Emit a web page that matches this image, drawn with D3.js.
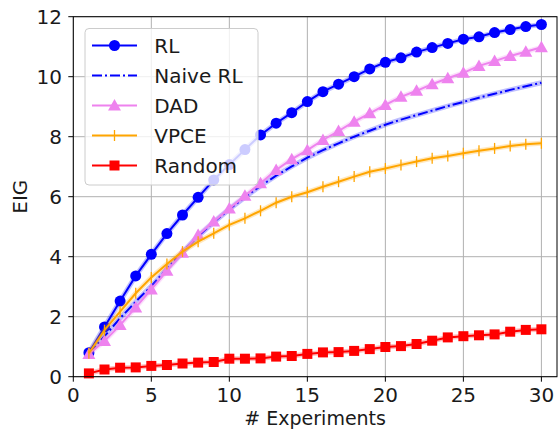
<!DOCTYPE html>
<html>
<head>
<meta charset="utf-8">
<script src="https://cdn.jsdelivr.net/npm/d3@7"></script>
<style>
  body { margin: 0; background: #fff; }
  svg { display: block; font-family: "DejaVu Sans", sans-serif; }
</style>
</head>
<body>
<svg id="chart" width="560" height="429"></svg>
<script>
// data
const experiments = d3.range(1, 31);
const rl = [0.80, 1.66, 2.52, 3.36, 4.08, 4.77, 5.39, 5.98, 6.56, 7.07,
  7.57, 8.06, 8.45, 8.80, 9.17, 9.50, 9.75, 10.00, 10.26, 10.48,
  10.63, 10.82, 10.97, 11.11, 11.25, 11.33, 11.47, 11.57, 11.67, 11.74];
const naiveRl = [0.78, 1.35, 1.95, 2.50, 3.02, 3.60, 4.15, 4.68, 5.15, 5.58,
  5.98, 6.36, 6.70, 7.01, 7.30, 7.55, 7.78, 8.00, 8.20, 8.40,
  8.57, 8.72, 8.87, 9.02, 9.16, 9.30, 9.43, 9.56, 9.68, 9.80];
const dad = [0.76, 1.19, 1.72, 2.31, 2.91, 3.53, 4.13, 4.72, 5.17, 5.61,
  6.03, 6.45, 6.89, 7.25, 7.55, 7.89, 8.19, 8.50, 8.78, 9.06,
  9.33, 9.53, 9.75, 9.95, 10.13, 10.36, 10.52, 10.69, 10.83, 10.98];
const vpce = [0.78, 1.55, 2.17, 2.78, 3.31, 3.76, 4.17, 4.50, 4.78, 5.06,
  5.28, 5.53, 5.80, 6.00, 6.15, 6.33, 6.50, 6.67, 6.83, 6.94,
  7.06, 7.17, 7.28, 7.36, 7.45, 7.53, 7.61, 7.69, 7.75, 7.78];
const random = [0.11, 0.24, 0.30, 0.31, 0.36, 0.39, 0.44, 0.47, 0.49, 0.60,
  0.60, 0.61, 0.67, 0.69, 0.76, 0.81, 0.82, 0.86, 0.92, 0.99,
  1.02, 1.09, 1.20, 1.31, 1.35, 1.38, 1.41, 1.50, 1.56, 1.58];
const xTicks = [0, 5, 10, 15, 20, 25, 30];
const yTicks = [0, 2, 4, 6, 8, 10, 12];

const series = [
  { name: "RL", values: rl, color: "#0000ff", marker: "circle", dash: null },
  { name: "Naive RL", values: naiveRl, color: "#0000ff", marker: null, dash: "10,3,2,3" },
  { name: "DAD", values: dad, color: "#ee82ee", marker: "triangle", dash: null },
  { name: "VPCE", values: vpce, color: "#ffa500", marker: "vline", dash: null },
  { name: "Random", values: random, color: "#ff0000", marker: "square", dash: null }
];

const box = { left: 73.3, right: 557, top: 16.7, bottom: 376.7 };

const svg = d3.select("#chart");

const x = d3.scaleLinear().domain([0, 31]).range([box.left, box.right]);
const y = d3.scaleLinear().domain([0, 12]).range([box.bottom, box.top]);

// grid
svg.append("g")
  .selectAll("line")
  .data(xTicks)
  .join("line")
  .attr("x1", d => x(d)).attr("x2", d => x(d))
  .attr("y1", box.top).attr("y2", box.bottom)
  .attr("stroke", "#b0b0b0").attr("stroke-width", 1);

svg.append("g")
  .selectAll("line")
  .data(yTicks)
  .join("line")
  .attr("x1", box.left).attr("x2", box.right)
  .attr("y1", d => y(d)).attr("y2", d => y(d))
  .attr("stroke", "#b0b0b0").attr("stroke-width", 1);

function drawMarker(g, type, color) {
  if (type === "circle") {
    g.append("circle").attr("r", 5.5).attr("fill", color);
  } else if (type === "triangle") {
    g.append("path").attr("d", "M0,-6.5L6.5,5L-6.5,5Z").attr("fill", color);
  } else if (type === "square") {
    g.append("rect").attr("x", -5).attr("y", -5).attr("width", 10).attr("height", 10).attr("fill", color);
  } else if (type === "vline") {
    g.append("line").attr("y1", -5.5).attr("y2", 5.5).attr("stroke", color).attr("stroke-width", 1.3);
  }
}

const line = d3.line().x((d, i) => x(experiments[i])).y(d => y(d));

const plot = svg.append("g");

series.forEach(s => {
  // soft band around each curve
  plot.append("path")
    .attr("d", line(s.values))
    .attr("fill", "none")
    .attr("stroke", s.color)
    .attr("stroke-opacity", 0.25)
    .attr("stroke-width", 5);
  plot.append("path")
    .attr("d", line(s.values))
    .attr("fill", "none")
    .attr("stroke", s.color)
    .attr("stroke-width", 2)
    .attr("stroke-dasharray", s.dash);
  if (s.marker) {
    s.values.forEach((v, i) => {
      const g = plot.append("g").attr("transform", `translate(${x(experiments[i])},${y(v)})`);
      drawMarker(g, s.marker, s.color);
    });
  }
});

// frame
svg.append("rect")
  .attr("x", box.left).attr("y", box.top)
  .attr("width", box.right - box.left).attr("height", box.bottom - box.top)
  .attr("fill", "none").attr("stroke", "#000").attr("stroke-width", 1);

// axes ticks and labels
const xAxis = svg.append("g");
xTicks.forEach(t => {
  xAxis.append("line")
    .attr("x1", x(t)).attr("x2", x(t))
    .attr("y1", box.bottom).attr("y2", box.bottom + 5)
    .attr("stroke", "#000");
  xAxis.append("text")
    .attr("x", x(t)).attr("y", 401.5)
    .attr("text-anchor", "middle")
    .attr("font-size", 20)
    .attr("fill", "#1a1a1a")
    .text(t);
});

const yAxis = svg.append("g");
yTicks.forEach(t => {
  yAxis.append("line")
    .attr("x1", box.left - 5).attr("x2", box.left)
    .attr("y1", y(t)).attr("y2", y(t))
    .attr("stroke", "#000");
  yAxis.append("text")
    .attr("x", 62).attr("y", y(t))
    .attr("dy", "0.36em")
    .attr("text-anchor", "end")
    .attr("font-size", 20)
    .attr("fill", "#1a1a1a")
    .text(t);
});

svg.append("text")
  .attr("x", (box.left + box.right) / 2).attr("y", 424.5)
  .attr("text-anchor", "middle")
  .attr("font-size", 19)
  .attr("fill", "#1a1a1a")
  .text("# Experiments");

svg.append("text")
  .attr("transform", `translate(26.7,${(box.top + box.bottom) / 2}) rotate(-90)`)
  .attr("text-anchor", "middle")
  .attr("font-size", 20)
  .attr("fill", "#1a1a1a")
  .text("EIG");

// legend
const legend = svg.append("g");
legend.append("rect")
  .attr("x", 85).attr("y", 28.5)
  .attr("width", 173).attr("height", 156.5)
  .attr("rx", 4)
  .attr("fill", "#fff").attr("fill-opacity", 0.8)
  .attr("stroke", "#cccccc").attr("stroke-width", 1);

series.forEach((s, i) => {
  const ly = 45.5 + i * 30;
  legend.append("line")
    .attr("x1", 92).attr("x2", 137)
    .attr("y1", ly).attr("y2", ly)
    .attr("stroke", s.color).attr("stroke-width", 2)
    .attr("stroke-dasharray", s.dash);
  if (s.marker) {
    const g = legend.append("g").attr("transform", `translate(114.5,${ly})`);
    drawMarker(g, s.marker, s.color);
  }
  legend.append("text")
    .attr("x", 154.3).attr("y", ly)
    .attr("dy", "0.35em")
    .attr("font-size", 20)
    .attr("fill", "#1a1a1a")
    .text(s.name);
});
</script>
</body>
</html>
